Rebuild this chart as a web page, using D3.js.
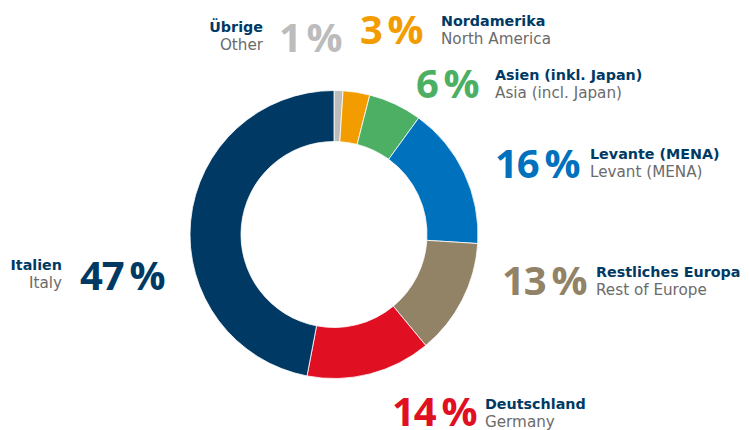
<!DOCTYPE html>
<html>
<head>
<meta charset="utf-8">
<script src="https://cdn.jsdelivr.net/npm/d3@7"></script>
<style>
  body { margin: 0; background: #fff; }
  svg text { font-family: "Open Sans", sans-serif; }
  svg text.name { font-family: "DejaVu Sans", sans-serif; }
</style>
</head>
<body>
<svg id="chart" width="749" height="430"></svg>
<script>
// data, clockwise from 12 o'clock
const regionsDe = ["Übrige", "Nordamerika", "Asien (inkl. Japan)", "Levante (MENA)", "Restliches Europa", "Deutschland", "Italien"];
const regionsEn = ["Other", "North America", "Asia (incl. Japan)", "Levant (MENA)", "Rest of Europe", "Germany", "Italy"];
const shares = [1, 3, 6, 16, 13, 14, 47];
const colors = ["#bcbcbc", "#f39c00", "#4caf63", "#0071bc", "#928266", "#e00f22", "#003a64"];

// label placement (layout only): percent x/baseline, name x, name baseline, side
const labelLayout = [
    { px: 279, py: 52, nx: 263, ny: 32, side: "left" },
    { px: 360, py: 44, nx: 441, ny: 26, side: "right" },
    { px: 416, py: 98, nx: 495, ny: 80, side: "right" },
    { px: 495, py: 178, nx: 590, ny: 159, side: "right" },
    { px: 502, py: 295, nx: 596, ny: 277, side: "right" },
    { px: 392, py: 426, nx: 485, ny: 409, side: "right" },
    { px: 80, py: 290, nx: 62, ny: 270, side: "left" }
];

const svg = d3.select("#chart");
const cx = 334, cy = 234.5;

const pie = d3.pie().sort(null).value(d => d.value);
const arc = d3.arc().innerRadius(93).outerRadius(144);

const data = shares.map((v, i) => ({ value: v, i: i }));

svg.append("g")
    .attr("transform", `translate(${cx},${cy})`)
    .selectAll("path")
    .data(pie(data))
    .enter().append("path")
    .attr("d", arc)
    .attr("fill", d => colors[d.data.i])
    .attr("stroke", "#fff")
    .attr("stroke-width", 0.8);

const labels = svg.append("g").attr("class", "labels");

data.forEach(function(d, i) {
    const L = labelLayout[i];
    const anchor = L.side === "left" ? "end" : "start";

    labels.append("text")
        .attr("x", L.px)
        .attr("y", L.py)
        .attr("font-size", 40)
        .attr("font-weight", 700)
        .attr("letter-spacing", -1)
        .attr("fill", colors[i])
        .text(shares[i] + "\u2009%");

    labels.append("text")
        .attr("class", "name")
        .attr("x", L.nx)
        .attr("y", L.ny)
        .attr("text-anchor", anchor)
        .attr("font-size", 14.3)
        .attr("font-weight", 700)
        .attr("fill", "#003a64")
        .text(regionsDe[i]);

    labels.append("text")
        .attr("class", "name")
        .attr("x", L.nx)
        .attr("y", L.ny + 18)
        .attr("text-anchor", anchor)
        .attr("font-size", 15.2)
        .attr("font-weight", 400)
        .attr("fill", "#6b6b6b")
        .text(regionsEn[i]);
});
</script>
</body>
</html>
